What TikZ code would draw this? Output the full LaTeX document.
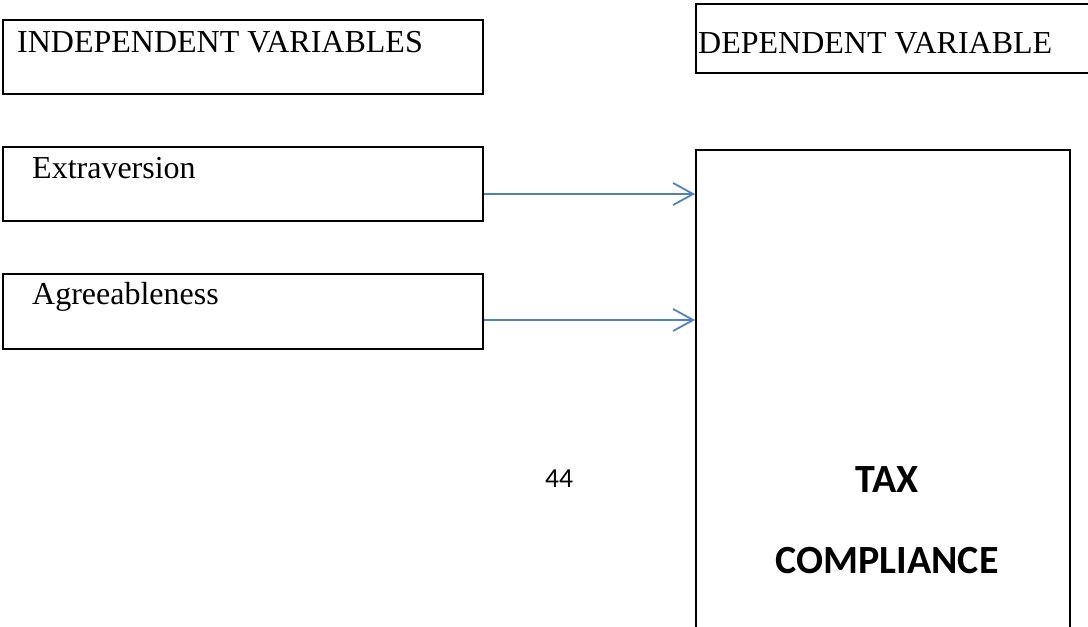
\documentclass[tikz,border=0pt]{standalone}
\usepackage{fontspec}
\setmainfont{Liberation Serif}
\newfontfamily\calibri{Carlito}
\usetikzlibrary{positioning,arrows.meta}
\definecolor{linkBlue}{RGB}{79,129,189}
\tikzset{
  box/.style={rectangle, draw, line width=2pt, inner sep=0pt, anchor=north west},
  varLabel/.style={anchor=base west, inner sep=0pt, font={\fontsize{32}{36}\selectfont}},
  depLabel/.style={anchor=base, inner sep=0pt, font={\calibri\bfseries\fontsize{40}{44}\selectfont}},
  applyLink/.style={-{Straight Barb[length=20pt,width=22pt]}, draw=linkBlue, line width=1.8pt}
}

\begin{document}
\begin{tikzpicture}[x=1pt, y=-1pt]
      \useasboundingbox (0,0) rectangle (1088,627);
      \clip (0,0) rectangle (1088,627);

      % headings
      \node[box, minimum width=480pt, minimum height=74pt] (indepBox) at (2,19) {};
      \node[varLabel] (indepText) at ([xshift=15pt,yshift=-33pt]indepBox.north west) {INDEPENDENT VARIABLES};
      \node[box, minimum width=394pt, minimum height=69pt] (depBox) at (695,3) {};
      \node[varLabel] (depText) at ([xshift=3pt,yshift=-50pt]depBox.north west) {DEPENDENT VARIABLE};

      % independent variables
      \node[box, minimum width=480pt, minimum height=74pt] (extBox) at (2,146) {};
      \node[varLabel] (extText) at ([xshift=30pt,yshift=-32pt]extBox.north west) {Extraversion};
      \node[box, minimum width=480pt, minimum height=75pt] (agrBox) at (2,273) {};
      \node[varLabel] (agrText) at ([xshift=30pt,yshift=-31pt]agrBox.north west) {Agreeableness};

      % dependent variable (runs off the bottom)
      \node[box, minimum width=374pt, minimum height=520pt] (taxBox) at (695,149) {};
      \node[depLabel] (taxText) at (887,492) {TAX};
      \node[depLabel] (complText) at (887,573) {COMPLIANCE};

      \node[anchor=base, inner sep=0pt, font={\calibri\fontsize{27.5}{30}\selectfont}] (pageNo) at (559,487) {44};

      \draw[applyLink] ([yshift=-10pt]extBox.east) -- ([yshift=-10pt]extBox.east -| taxBox.west);
      \draw[applyLink] ([yshift=-8.5pt]agrBox.east) -- ([yshift=-8.5pt]agrBox.east -| taxBox.west);

    \end{tikzpicture}
\end{document}
